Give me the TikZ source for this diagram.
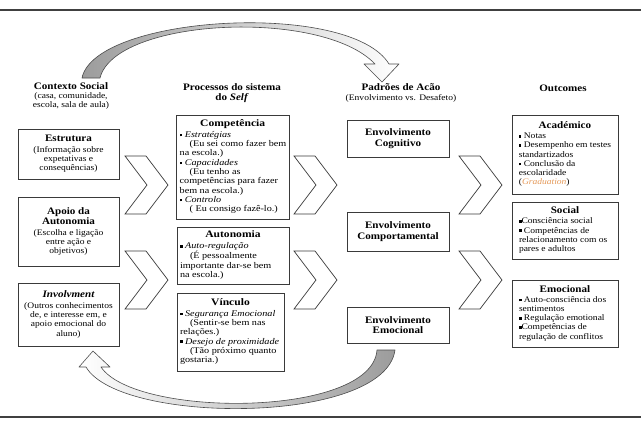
\documentclass[tikz,border=0pt]{standalone}
\usepackage{fontspec}
\setmainfont{Liberation Serif}[FakeStretch=1.12]
\newfontfamily\widef{Liberation Serif}[FakeStretch=1.17]
\definecolor{boxline}{HTML}{3A3A3A}
\definecolor{orangeg}{HTML}{E59A5A}
\definecolor{arrgray}{HTML}{9C9C9C}
\newcommand\bodyf{\fontsize{8.5}{9.2}\selectfont}
\newcommand\widebody{\widef\fontsize{8.7}{9.3}\selectfont}
\newcommand\titf{\fontsize{9.9}{10.6}\selectfont\bfseries}
\newcommand\sqb{\raisebox{1pt}{\rule{2.6pt}{2.6pt}}}
\newcommand\chevr[2]{\draw[chev] (#1,#2-29) -- ++(21,0) -- ++(22,29) -- ++(-22,29) -- ++(-21,0) -- ++(22,-29) -- cycle;}
\tikzset{
  base/.style={draw=boxline, line width=0.8pt, fill=white, inner xsep=3pt, inner ysep=0pt, font=\bodyf},
  cbox/.style={base, align=center},
  lbox/.style={base},
  wbox/.style={base, font=\widebody},
  ebox/.style={base, align=center, font=\titf},
  chev/.style={draw=boxline, line width=0.7pt, fill=white, line join=miter},
  hdr/.style={align=center, font=\bodyf, inner sep=0pt},
  arrline/.style={draw=black!70, line width=0.6pt, line join=round}
}
\begin{document}
\begin{tikzpicture}[x=1pt,y=-1pt]
\fill[white] (0,0) rectangle (641,421);
\useasboundingbox (0,0) rectangle (641,421);
\draw[line width=2pt, black!75] (0,10) -- (641,10);
\draw[line width=1.5pt, black!75] (0,417) -- (641,417);

% curved arrows
\path[left color=arrgray, right color=white, arrline]
  (82,78) .. controls (95,15) and (350,0) .. (389,64) -- (399,64) -- (382,82) -- (364,64) -- (375,64)
  .. controls (322,8) and (115,18) .. (100,78) -- cycle;
\path[left color=white, right color=arrgray, arrline]
  (395,350) .. controls (385,425) and (120,425) .. (86,367) -- (79,367) -- (93,351) -- (110,367) -- (101,367)
  .. controls (135,418) and (372,418) .. (377,350) -- cycle;

% headers
\node[hdr] (h1) at (71,96) {{\titf Contexto Social}\\(casa, comunidade,\\escola, sala de aula)};
\node[hdr, font=\titf] (h2) at (232,93) {Processos do sistema\\do \textit{Self}};
\node[hdr] (h3) at (401,93) {{\titf Padrões de Acão}\\(Envolvimento vs. Desafeto)};
\node[hdr, font=\titf] (h4) at (563,88) {Outcomes};

% column 1
\node[cbox, minimum width=101pt, minimum height=50pt] (estr) at (68.5,154)
  {{\titf Estrutura}\\[1.5pt](Informação sobre\\expetativas e\\consequências)};
\node[cbox, minimum width=101pt, minimum height=69pt] (apoio) at (68.5,231.5)
  {{\titf Apoio da}\\[1pt]{\titf Autonomia}\\[1pt](Escolha e ligação\\entre ação e\\objetivos)};
\node[cbox, minimum width=101pt, minimum height=63pt] (invol) at (68.5,314.5)
  {{\titf\itshape Involvment}\\[1.5pt](Outros conhecimentos\\de, e interesse em, e\\apoio emocional do\\aluno)};

% column 2
\node[wbox, minimum width=112pt, minimum height=104pt] (comp) at (233,167) {\begin{tabular}{@{}l@{}}
\makebox[106pt][c]{\titf Competência}\\[1.5pt]
\sqb\ \textit{Estratégias}\\
\hspace*{10pt}(Eu sei como fazer bem\\
na escola.)\\
\sqb\ \textit{Capacidades}\\
\hspace*{10pt}(Eu tenho as\\
competências para fazer\\
bem na escola.)\\
\sqb\ \textit{Controlo}\\
\hspace*{10pt}( Eu consigo fazê-lo.)
\end{tabular}};
\node[wbox, minimum width=112pt, minimum height=57pt] (auton) at (233,255.5) {\begin{tabular}{@{}l@{}}
\makebox[106pt][c]{\titf Autonomia}\\[1.5pt]
\sqb\ \textit{Auto-regulação}\\
\hspace*{10pt}(É pessoalmente\\
importante dar-se bem\\
na escola.)
\end{tabular}};
\node[wbox, minimum width=107pt, minimum height=78pt] (vinc) at (230.5,332) {\begin{tabular}{@{}l@{}}
\makebox[101pt][c]{\titf Vínculo}\\[1.5pt]
\sqb\ \textit{Segurança Emocional}\\
\hspace*{10pt}(Sentir-se bem nas\\
relações.)\\
\sqb\ \textit{Desejo de proximidade}\\
\hspace*{10pt}(Tão próximo quanto\\
gostaria.)
\end{tabular}};

% column 3
\node[ebox, minimum width=102pt, minimum height=37pt] (cog) at (398,138.5) {Envolvimento\\Cognitivo};
\node[ebox, minimum width=102pt, minimum height=39pt] (comport) at (398,231.5) {Envolvimento\\Comportamental};
\node[ebox, minimum width=102pt, minimum height=36pt] (emoc) at (398,325) {Envolvimento\\Emocional};

% column 4
\node[lbox, minimum width=106pt, minimum height=79pt] (acad) at (565,154.5) {\begin{tabular}{@{}l@{}}
\makebox[92pt][c]{\titf Académico}\\[1pt]
\sqb\ Notas\\
\sqb\ Desempenho em testes\\
standartizados\\
\sqb\ Conclusão da\\
escolaridade\\
(\textcolor{orangeg}{\textit{Graduation}})
\end{tabular}};
\node[lbox, minimum width=106pt, minimum height=57pt] (soc) at (565,230.5) {\begin{tabular}{@{}l@{}}
\makebox[92pt][c]{\titf Social}\\[1pt]
\sqb Consciência social\\
\sqb\ Competências de\\
relacionamento com os\\
pares e adultos
\end{tabular}};
\node[lbox, minimum width=106pt, minimum height=67pt] (emo) at (565,313.5) {\begin{tabular}{@{}l@{}}
\makebox[92pt][c]{\titf Emocional}\\[1pt]
\sqb\ Auto-consciência dos\\
sentimentos\\
\sqb\ Regulação emotional\\
\sqb Competências de\\
regulação de conflitos
\end{tabular}};

% chevrons
\chevr{125}{185}
\chevr{125}{280}
\chevr{294}{185}
\chevr{294}{280}
\chevr{459}{185}
\chevr{459}{280}
\end{tikzpicture}
\end{document}
